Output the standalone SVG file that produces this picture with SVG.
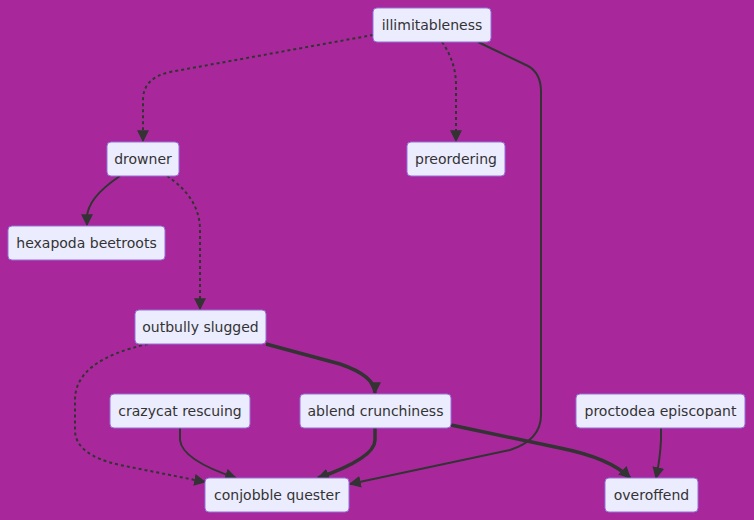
<svg xmlns="http://www.w3.org/2000/svg" width="754" height="520" viewBox="0 0 754 520">
<style>
.node rect{fill:#ECECFF;stroke:#9370DB;stroke-width:1px}
.node text{font-family:"DejaVu Sans",sans-serif;font-size:14px;fill:#333333;text-anchor:middle;dominant-baseline:central}
.e{fill:none;stroke:#333333;stroke-width:2px}
.dot{stroke-dasharray:3 3}
.thick{stroke-width:3.5px}
</style>
<defs>
<marker id="arr" viewBox="0 0 10 10" refX="9" refY="5" markerUnits="userSpaceOnUse" markerWidth="12" markerHeight="12" orient="auto">
<path d="M0,0 L10,5 L0,10 z" fill="#333333"/>
</marker>
</defs>
<rect width="754" height="520" fill="#a8289b"/>
<g id="edges">
<path class="e dot" d="M373,35 L170,72 Q143,78 143,100 L143,141" marker-end="url(#arr)"/>
<path class="e dot" d="M442,42 Q456,62 456,85 L456,141" marker-end="url(#arr)"/>
<path class="e" d="M478,42 L528,66 Q541,73 541,92 L541,415 Q541,440 510,450 L350,484" marker-end="url(#arr)"/>
<path class="e" d="M120,176 Q87,198 87,218 L87,225" marker-end="url(#arr)"/>
<path class="e dot" d="M167,176 Q200,198 200,230 L200,309" marker-end="url(#arr)"/>
<path class="e thick" d="M266,344 L340,364 Q375,376 375,393" marker-end="url(#arr)"/>
<path class="e dot" d="M148,344 Q75,360 75,400 L75,430 Q75,455 120,465 L205,482" marker-end="url(#arr)"/>
<path class="e" d="M180,428 L180,440 Q182,460 236,478" marker-end="url(#arr)"/>
<path class="e thick" d="M375,428 L375,440 Q375,458 318,478" marker-end="url(#arr)"/>
<path class="e thick" d="M451,425 L560,448 Q610,458 630,478" marker-end="url(#arr)"/>
<path class="e" d="M661,428 L661,440 Q660,460 656,478" marker-end="url(#arr)"/>
</g>
<g id="illimitableness" class="node"><rect x="373" y="8" width="118" height="34" rx="4"/><text x="432" y="25">illimitableness</text></g>
<g id="drowner" class="node"><rect x="107" y="142" width="72" height="34" rx="4"/><text x="143" y="159">drowner</text></g>
<g id="preordering" class="node"><rect x="407" y="142" width="98" height="34" rx="4"/><text x="456" y="159">preordering</text></g>
<g id="hexapoda_beetroots" class="node"><rect x="8" y="226" width="157" height="34" rx="4"/><text x="86.5" y="243">hexapoda beetroots</text></g>
<g id="outbully_slugged" class="node"><rect x="135" y="310" width="131" height="34" rx="4"/><text x="200.5" y="327">outbully slugged</text></g>
<g id="crazycat_rescuing" class="node"><rect x="110" y="394" width="140" height="34" rx="4"/><text x="180" y="411">crazycat rescuing</text></g>
<g id="ablend_crunchiness" class="node"><rect x="300" y="394" width="151" height="34" rx="4"/><text x="375.5" y="411">ablend crunchiness</text></g>
<g id="proctodea_episcopant" class="node"><rect x="576" y="394" width="169" height="34" rx="4"/><text x="660.5" y="411">proctodea episcopant</text></g>
<g id="conjobble_quester" class="node"><rect x="205" y="478" width="144" height="34" rx="4"/><text x="277" y="495">conjobble quester</text></g>
<g id="overoffend" class="node"><rect x="605" y="478" width="93" height="34" rx="4"/><text x="651.5" y="495">overoffend</text></g>
</svg>
